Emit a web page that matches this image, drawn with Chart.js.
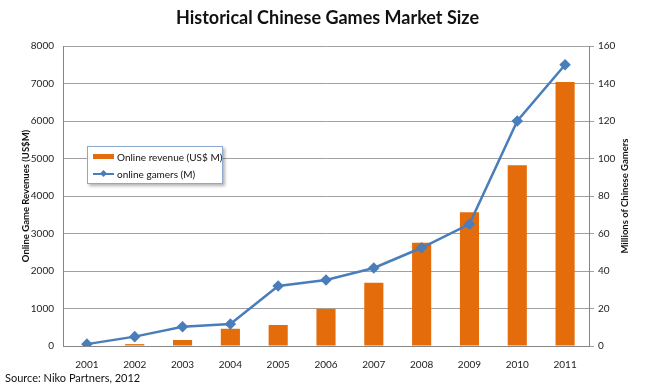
<!DOCTYPE html>
<html>
<head>
<meta charset="utf-8">
<script src="https://cdn.jsdelivr.net/npm/chart.js@4"></script>
<style>
  body { margin: 0; background: #fff; }
  #wrap { position: relative; width: 655px; height: 388px; font-family: Lato, "DejaVu Sans", sans-serif; }
  #title { position: absolute; left: 0; top: 6px; width: 655px; text-align: center; font-weight: bold; font-size: 18px; color: #111; }
  #source { position: absolute; left: 5px; top: 371px; font-size: 11px; color: #111; }
  #rtitle { position: absolute; left: 525px; top: 190px; width: 200px; height: 12px; line-height: 12px; text-align: center;
            font-weight: bold; font-size: 9.5px; color: #111; transform: rotate(-90deg); white-space: nowrap; }
  #legend { position: absolute; left: 87px; top: 146px; width: 134px; height: 36px; background: #fff;
            border: 1px solid #8ea9cf; box-shadow: 2px 2px 3px rgba(0,0,0,0.3); font-size: 10px; color: #111; }
  .row { position: absolute; left: 5px; height: 12px; line-height: 12px; }
  .sw { position: absolute; left: 0; top: 3px; width: 21px; height: 5px; background: #E46C0A; }
  .ln { position: absolute; left: 0; top: 5px; width: 21px; height: 2px; background: #4A7EBB; }
  .dm { position: absolute; left: 8px; top: 3px; width: 5px; height: 5px; background: #4A7EBB; transform: rotate(45deg); }
  .tx { position: absolute; left: 24px; top: 0; white-space: nowrap; }
</style>
</head>
<body>
<div id="wrap">
  <canvas id="chart" width="655" height="388"></canvas>
  <div id="title">Historical Chinese Games Market Size</div>
  <div id="legend">
    <div class="row" style="top:4px"><div class="sw"></div><div class="tx">Online revenue (US$ M)</div></div>
    <div class="row" style="top:21px"><div class="ln"></div><div class="dm"></div><div class="tx">online gamers (M)</div></div>
  </div>
  <div id="rtitle">Millions of Chinese Gamers</div>
  <div id="source">Source: Niko Partners, 2012</div>
</div>
<script>
const years = ['2001', '2002', '2003', '2004', '2005', '2006', '2007', '2008', '2009', '2010', '2011'];
const revenue = [0, 50, 160, 460, 560, 990, 1690, 2755, 3565, 4820, 7040];   // US$ M
const gamers = [1, 5, 10.3, 11.7, 32, 35.2, 41.6, 52.4, 65, 120, 150];       // millions
const revenueAxis = [0, 8000, 1000];   // min, max, step
const gamersAxis = [0, 160, 20];

const gridGray = '#a0a0a0';
const tickFont = { family: 'Lato', size: 10 };

const ctx = document.getElementById('chart').getContext('2d');
new Chart(ctx, {
    type: 'bar',
    data: {
        labels: years,
        datasets: [{
            type: 'line',
            label: 'online gamers (M)',
            data: gamers,
            yAxisID: 'y1',
            borderColor: '#4A7EBB',
            backgroundColor: '#4A7EBB',
            borderWidth: 2.5,
            pointStyle: 'rectRot',
            pointRadius: 4,
            tension: 0
        }, {
            label: 'Online revenue (US$ M)',
            data: revenue,
            yAxisID: 'y',
            backgroundColor: '#E46C0A',
            barPercentage: 0.4,
            categoryPercentage: 1
        }]
    },
    options: {
        responsive: false,
        animation: false,
        layout: { padding: { top: 46, bottom: 20, left: 0, right: 0 } },
        plugins: { legend: { display: false }, title: { display: false }, tooltip: { enabled: false } },
        scales: {
            x: {
                grid: { display: false },
                border: { display: true, color: '#868686' },
                ticks: { font: tickFont, color: '#222', padding: 5, maxRotation: 0 },
                afterFit: s => { s.height = 22; }
            },
            y: {
                position: 'left',
                min: revenueAxis[0], max: revenueAxis[1],
                ticks: { stepSize: revenueAxis[2], font: tickFont, color: '#222', padding: 9, callback: v => String(v) },
                grid: { color: gridGray, drawTicks: false },
                border: { color: '#868686' },
                title: { display: true, text: 'Online Game Revenues (US$M)', font: { family: 'Lato', size: 9.5, weight: 'bold' }, color: '#111', padding: { top: 20, bottom: 0 } },
                afterFit: s => { s.width = 63; }
            },
            y1: {
                position: 'right',
                min: gamersAxis[0], max: gamersAxis[1],
                ticks: { stepSize: gamersAxis[2], font: tickFont, color: '#222', padding: 4, callback: v => String(v) },
                grid: { drawOnChartArea: false, color: gridGray, tickLength: 5 },
                border: { color: '#868686' },
                afterFit: s => { s.width = 66; }
            }
        }
    }
});
</script>
</body>
</html>
